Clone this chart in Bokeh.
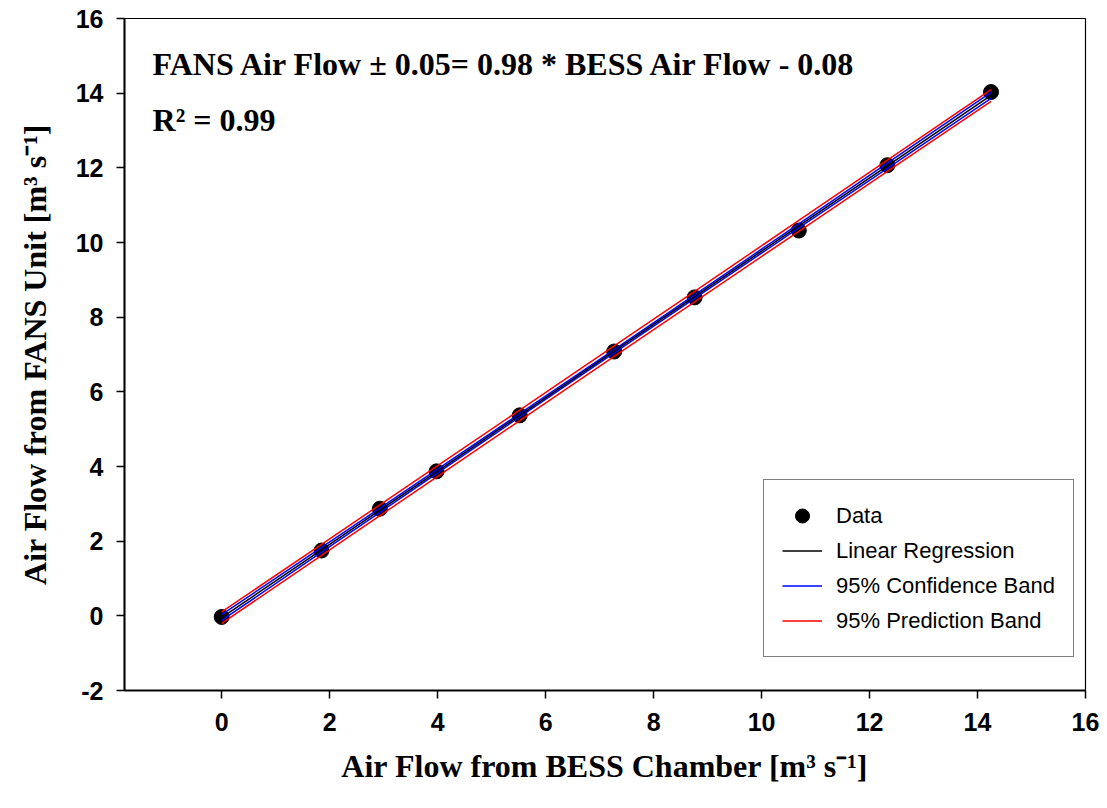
import numpy as np
from bokeh.plotting import figure
from bokeh.models import Range1d, FixedTicker, Label, Legend, LegendItem, CustomJSTickFormatter
from bokeh.embed import file_html
from bokeh.resources import INLINE

# ---- data ----
bess_flow = [0.0, 1.85, 2.93, 3.98, 5.52, 7.27, 8.76, 10.69, 12.33, 14.25]
fans_flow = [-0.03, 1.75, 2.87, 3.87, 5.37, 7.08, 8.53, 10.32, 12.07, 14.03]
x_ticks = [0, 2, 4, 6, 8, 10, 12, 14, 16]
y_ticks = [-2, 0, 2, 4, 6, 8, 10, 12, 14, 16]
equation_text = "FANS Air Flow \u00b1 0.05= 0.98 * BESS Air Flow - 0.08"
r2_text = "R\u00b2 = 0.99"
x_label = "Air Flow from BESS Chamber [m\u00b3 s\u207b\u00b9]"
y_label = "Air Flow from FANS Unit [m\u00b3 s\u207b\u00b9]"
legend_labels = ["Data", "Linear Regression", "95% Confidence Band", "95% Prediction Band"]
T_95_DF8 = 2.306  # Student t, 95 %, n-2 = 8 degrees of freedom

# ---- regression statistics computed from the data ----
x = np.array(bess_flow)
y = np.array(fans_flow)
n = len(x)
slope, intercept = np.polyfit(x, y, 1)
fit = slope * x + intercept
s = np.sqrt(np.sum((y - fit) ** 2) / (n - 2))
sxx = np.sum((x - x.mean()) ** 2)
conf = T_95_DF8 * s * np.sqrt(1.0 / n + (x - x.mean()) ** 2 / sxx)
pred = T_95_DF8 * s * np.sqrt(1.0 + 1.0 / n + (x - x.mean()) ** 2 / sxx)

p = figure(width=1107, height=808, x_range=Range1d(-1.8, 16), y_range=Range1d(-2, 16),
           output_backend="svg", toolbar_location=None, title=None,
           min_border_left=124, min_border_right=22, min_border_top=18, min_border_bottom=118)
p.background_fill_color = "white"
p.border_fill_color = "white"
p.outline_line_color = "black"
p.outline_line_width = 1.2
p.grid.visible = False

sc = p.scatter(bess_flow, fans_flow, size=15, color="black")
r_lo = p.line(x, fit - pred, line_color="#ff0000", line_width=1.5)
p.line(x, fit + pred, line_color="#ff0000", line_width=1.5)
b_lo = p.line(x, fit - conf, line_color="#0000ff", line_width=1.5)
p.line(x, fit + conf, line_color="#0000ff", line_width=1.5)
reg = p.line(x, fit, line_color="black", line_width=1.5)

p.xaxis.ticker = FixedTicker(ticks=x_ticks)
p.yaxis.ticker = FixedTicker(ticks=y_ticks)
for ax in (p.xaxis, p.yaxis):
    ax.formatter = CustomJSTickFormatter(code="return tick.toString();")
    ax.axis_line_width = 2
    ax.axis_line_color = "black"
    ax.major_tick_line_width = 1.5
    ax.major_tick_out = 8
    ax.major_tick_in = 0
    ax.minor_tick_out = 0
    ax.minor_tick_in = 0
    ax.major_label_text_font = "Liberation Sans"
    ax.major_label_text_font_style = "bold"
    ax.major_label_text_font_size = "25px"
    ax.major_label_text_color = "black"
    ax.axis_label_text_font = "Liberation Serif"
    ax.axis_label_text_font_style = "bold"
    ax.axis_label_text_font_size = "32px"
    ax.axis_label_text_color = "black"

p.xaxis.axis_label = x_label
p.yaxis.axis_label = y_label
p.xaxis.major_label_standoff = 14
p.xaxis.axis_label_standoff = 14
p.yaxis.major_label_standoff = 13
p.yaxis.axis_label_standoff = 20

p.add_layout(Label(x=-1.28, y=14.77, text=equation_text, text_font="Liberation Serif",
                   text_font_style="bold", text_font_size="32px", text_color="black",
                   text_baseline="alphabetic"))
p.add_layout(Label(x=-1.28, y=13.29, text=r2_text, text_font="Liberation Serif",
                   text_font_style="bold", text_font_size="32px", text_color="black",
                   text_baseline="alphabetic"))

legend = Legend(items=[LegendItem(label=legend_labels[0], renderers=[sc]),
                       LegendItem(label=legend_labels[1], renderers=[reg]),
                       LegendItem(label=legend_labels[2], renderers=[b_lo]),
                       LegendItem(label=legend_labels[3], renderers=[r_lo])],
                location=(639, 33), margin=0, padding=18, spacing=0,
                glyph_width=40, glyph_height=35, label_height=35, label_standoff=14,
                label_text_font="Liberation Sans", label_text_font_size="22px",
                label_text_color="black",
                border_line_color="black", border_line_width=1.5,
                background_fill_color="white", background_fill_alpha=1.0)
p.add_layout(legend)

open("out.html", "w").write(file_html(p, INLINE))
